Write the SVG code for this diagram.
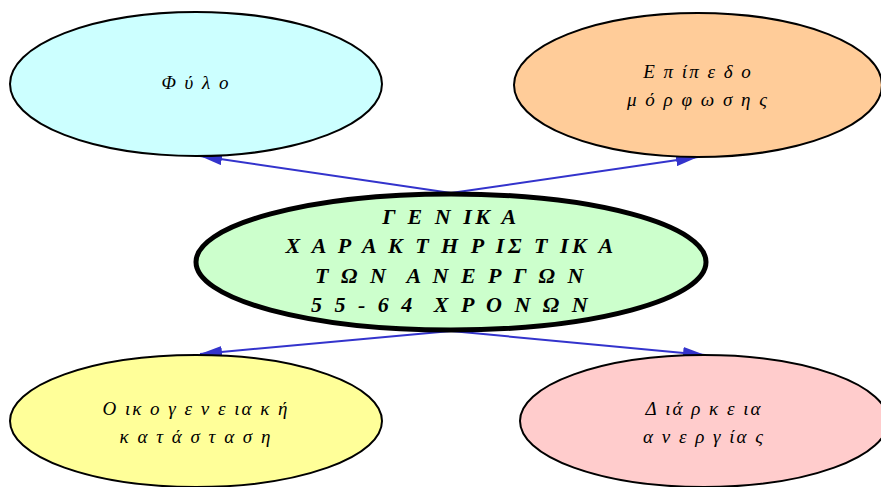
<svg xmlns="http://www.w3.org/2000/svg" width="881" height="487" viewBox="0 0 881 487">
<defs>
<marker id="ah" viewBox="0 0 22 12" refX="22" refY="6" markerWidth="22" markerHeight="12" markerUnits="userSpaceOnUse" orient="auto">
<path d="M0,0 L22,6 L0,12 Z" fill="#3333cc"/>
</marker>
<style>
.n{stroke:#000;stroke-width:2}
.t{font-family:"Liberation Serif",serif;font-style:italic;font-size:19px;fill:#000;text-anchor:middle;letter-spacing:2px;white-space:pre}
.c{font-family:"Liberation Serif",serif;font-style:italic;font-weight:bold;font-size:22px;fill:#000;text-anchor:middle;letter-spacing:3.5px;white-space:pre}
.e{stroke:#3333cc;stroke-width:2;fill:none;marker-end:url(#ah)}
</style>
</defs>
<rect width="881" height="487" fill="#fff"/>
<g id="connectors">
<line class="e" x1="451" y1="193" x2="200" y2="156"/>
<line class="e" x1="451" y1="193" x2="698" y2="157"/>
<line class="e" x1="451" y1="331" x2="200" y2="354"/>
<line class="e" x1="451" y1="331" x2="705" y2="355"/>
</g>
<g id="fylo">
<ellipse class="n" cx="196" cy="84" rx="186" ry="72" fill="#ccffff"/>
<text class="t" x="196" y="89">Φ ύ λ ο</text>
</g>
<g id="epipedo">
<ellipse class="n" cx="698" cy="85" rx="184" ry="72" fill="#ffcc99"/>
<text class="t" x="698" y="78">Ε π ίπ ε δ ο</text>
<text class="t" x="698" y="106">μ ό ρ φ ω σ η ς</text>
</g>
<g id="center">
<ellipse cx="451" cy="262" rx="255" ry="68" fill="#ccffcc" stroke="#000" stroke-width="5"/>
<text class="c" x="451" y="224">Γ Ε Ν ΙΚ Α</text>
<text class="c" x="451" y="253">Χ Α Ρ Α Κ Τ Η Ρ ΙΣ Τ ΙΚ Α</text>
<text class="c" x="451" y="283">Τ Ω Ν  Α Ν Ε Ρ Γ Ω Ν</text>
<text class="c" x="451" y="312">5 5 - 6 4  Χ Ρ Ο Ν Ω Ν</text>
</g>
<g id="oikogeneiaki">
<ellipse class="n" cx="196" cy="421" rx="186" ry="66" fill="#ffff99"/>
<text class="t" x="196" y="415">Ο ικ ο γ ε ν ε ια κ ή</text>
<text class="t" x="196" y="443">κ α τ ά σ τ α σ η</text>
</g>
<g id="diarkeia">
<ellipse class="n" cx="704" cy="421" rx="184" ry="66" fill="#ffcccc"/>
<text class="t" x="704" y="415">Δ ιά ρ κ ε ια</text>
<text class="t" x="704" y="443">α ν ε ρ γ ία ς</text>
</g>
</svg>
